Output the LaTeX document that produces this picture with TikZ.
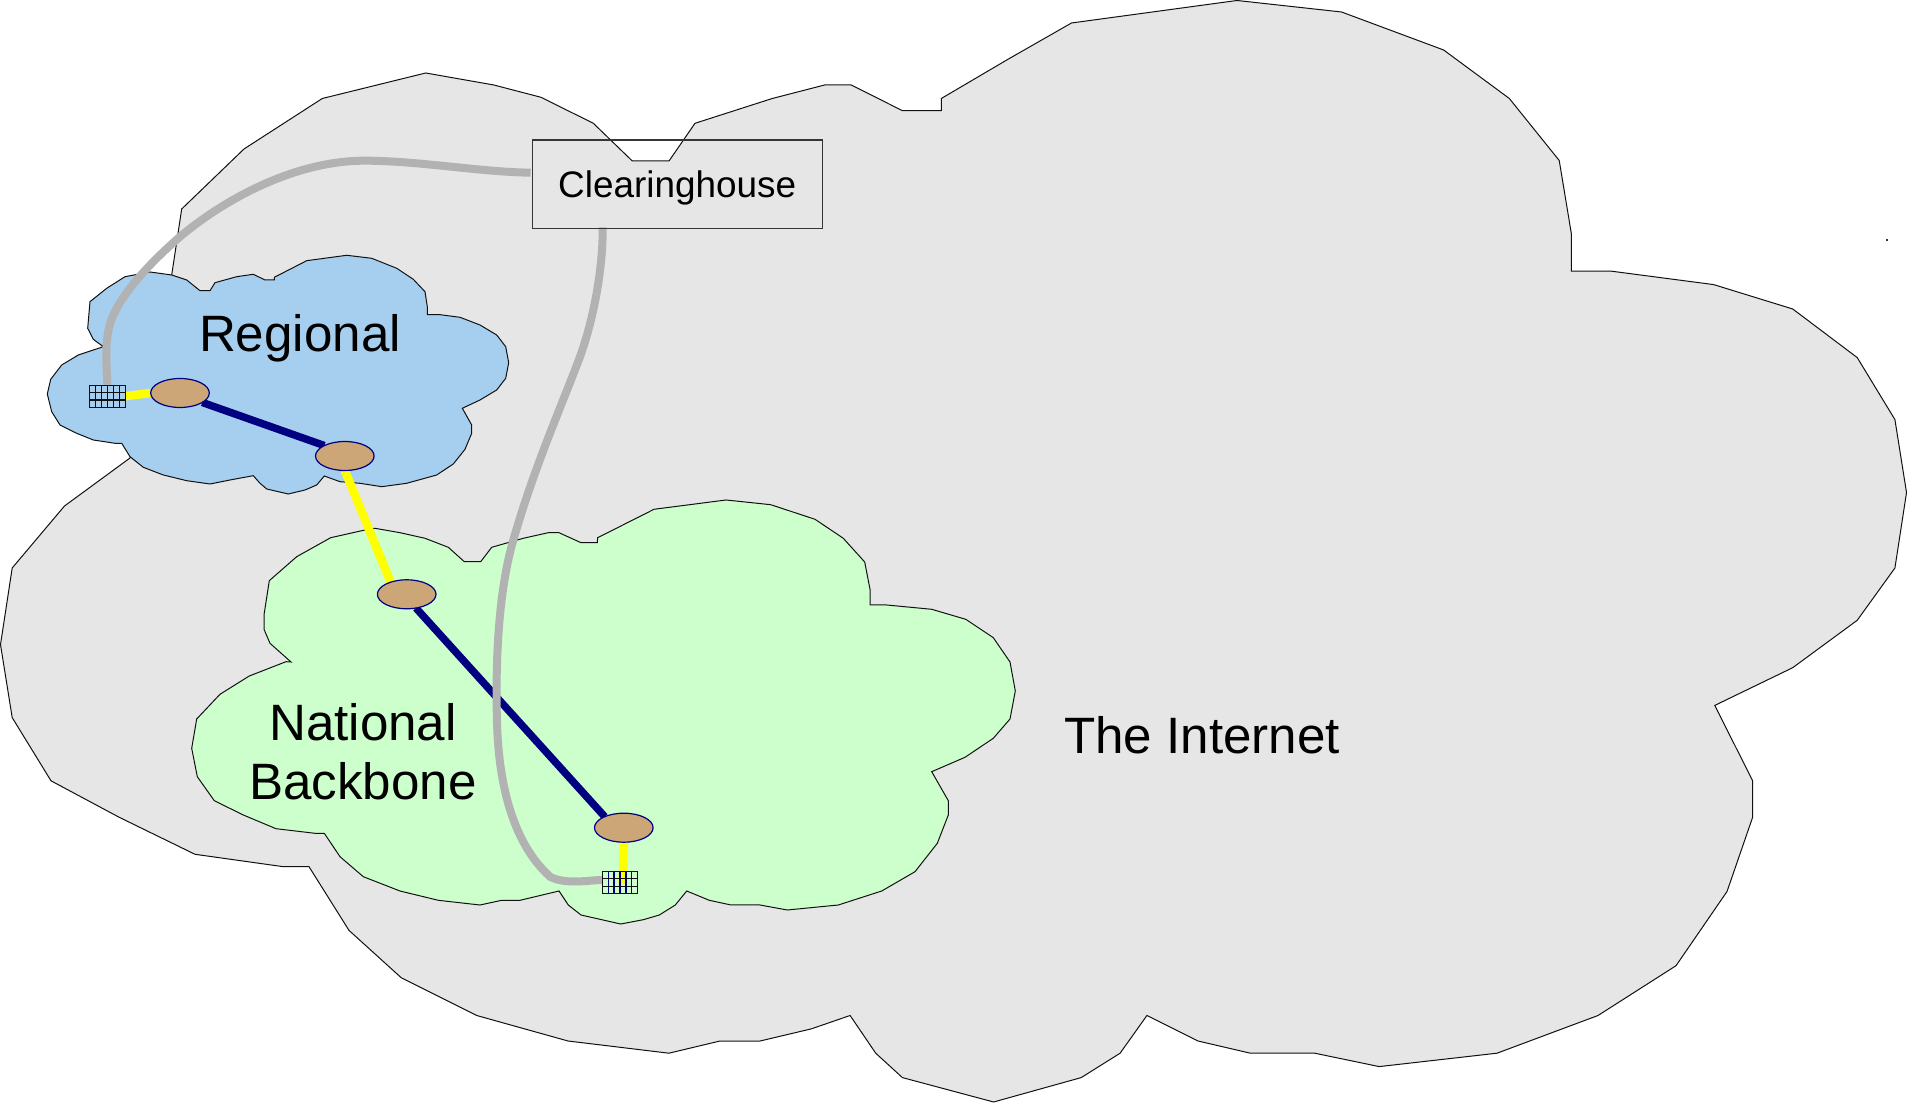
\documentclass[tikz,border=0pt]{standalone}
\usepackage{fontspec}
\setmainfont{Liberation Sans}
\usetikzlibrary{shapes.geometric,calc}
\pgfdeclarelayer{clouds}
\pgfdeclarelayer{links}
\pgfsetlayers{clouds,links,main}
\definecolor{inetgray}{HTML}{E6E6E6}
\definecolor{regblue}{HTML}{A6CFEF}
\definecolor{natgreen}{HTML}{CCFFCC}
\definecolor{routertan}{HTML}{CCA677}
\definecolor{linknavy}{HTML}{000080}
\definecolor{linkyellow}{HTML}{FFFF00}
\definecolor{linkgray}{HTML}{B2B2B2}
\definecolor{edgedark}{HTML}{111111}
\tikzset{
  cloudshape/.style={draw=edgedark,line width=0.1mm,line join=miter},
  router/.style={ellipse,draw=linknavy,fill=routertan,line width=0.12mm,minimum width=5.86mm,minimum height=2.9mm,inner sep=0pt,outer sep=0pt},
  meshbox/.style={rectangle,draw=edgedark,line width=0.12mm,minimum width=3.56mm,minimum height=2.18mm,inner sep=0pt,outer sep=0pt,
    path picture={
      \foreach \k in {1,...,5}{\draw[linknavy,line width=0.12mm] ($(path picture bounding box.north west)+(\k*0.593mm,0)$) -- ($(path picture bounding box.south west)+(\k*0.593mm,0)$);}
      \foreach \k in {1,2}{\draw[edgedark,line width=0.12mm] ($(path picture bounding box.north west)+(0,-\k*0.727mm)$) -- ($(path picture bounding box.north east)+(0,-\k*0.727mm)$);}
    }},
  chbox/.style={rectangle,draw=edgedark!85,line width=0.11mm,minimum width=28.97mm,minimum height=8.83mm,inner sep=0pt,outer sep=0pt,font=\fontsize{10.5pt}{12pt}\selectfont,text height=3.5mm,text depth=0.88mm},
  biglabel/.style={anchor=base,inner sep=0pt,font=\fontsize{14.55pt}{16.7pt}\selectfont,align=center},
  linkblue/.style={draw=linknavy,line width=0.75mm},
  linkyel/.style={draw=linkyellow,line width=0.85mm},
  linkgr/.style={draw=linkgray,line width=0.8mm},
}
\begin{document}
\begin{tikzpicture}[x=0.1mm,y=-0.1mm]
\useasboundingbox (0,0) rectangle (1907,1103);

\begin{pgfonlayer}{clouds}
\path[cloudshape,fill=inetgray] (171.7,275)--(181.7,209)--(244,149)--(322.3,98.5)--(425.7,73)--(493.8,85)--(541,97.3)--(593.3,123.3)--(632.3,161)--(669,161)--(695,123.3)--(772.3,98.5)--(824.6,85)--(851.3,85)--(902.4,110.7)--(941.3,110.7)--(941.3,98.5)--(1009.5,58.4)--(1071.5,23)--(1237,0.5)--(1341.5,12)--(1443.6,50)--(1509.3,98.5)--(1559.2,160.5)--(1571.3,233.5)--(1571.3,271.2)--(1611.5,271.2)--(1713.6,284.6)--(1792.7,309)--(1857.2,357.6)--(1894.9,419.6)--(1906.5,492.6)--(1894.9,568)--(1857.2,620.3)--(1792.7,667.7)--(1714.8,705.4)--(1752.6,780.8)--(1752.6,817.3)--(1727,891.5)--(1676,965.7)--(1598,1015.5)--(1497,1053.2)--(1379.2,1066.6)--(1314.7,1053.2)--(1250.3,1053.2)--(1198,1041)--(1146.9,1015.5)--(1120.1,1053.2)--(1081.2,1077.6)--(993.6,1102)--(902.4,1077.6)--(875.7,1053.2)--(850.1,1015.5)--(811.2,1028.9)--(760.1,1041)--(720,1041)--(668.9,1053.2)--(568,1041)--(476.7,1015.5)--(401.3,977.8)--(349,930.4)--(309,866.7)--(283.3,866.7)--(195,854.3)--(119.2,817.3)--(51,780.8)--(12.2,717.6)--(0.5,644.6)--(12.2,568)--(64.5,506)--(130,458)--cycle;
\path[cloudshape,fill=regblue] (150,272)--(171.7,275)--(186.7,280)--(200,290.7)--(210,290.7)--(215,282.7)--(236.7,276.7)--(253.3,274.3)--(265,280)--(274.3,280)--(274.3,277.3)--(306.7,260.7)--(346.7,255.3)--(371.7,258.3)--(396.7,268.3)--(413.3,279.3)--(425,291.7)--(427.3,306.7)--(427.3,314.7)--(440,314.7)--(460,317.3)--(480,325)--(496.7,335)--(505.7,346.7)--(508.7,362.7)--(505.7,378.3)--(496.7,390)--(480,400)--(462.3,408.3)--(471.7,425)--(471.7,433.3)--(465,449.3)--(453.3,464)--(436.7,475)--(406.7,483.3)--(381.7,486.7)--(360,483.3)--(340,481.7)--(324.3,476)--(316.7,485)--(305,490)--(288.3,494)--(266.7,489)--(260,483.3)--(253.3,475.7)--(230,480)--(210,484)--(186.7,480.7)--(163.3,475)--(143.3,467.3)--(130,456.7)--(121.7,443.3)--(115,443.3)--(93.3,440)--(76.7,433.3)--(60,425)--(51.7,411.7)--(47.3,394)--(50.7,379.3)--(61.7,365)--(78.3,355)--(103.3,346.7)--(93.3,339.3)--(87.7,328.3)--(90,301.7)--(106.7,288.3)--(125,276.7)--cycle;
\path[cloudshape,fill=natgreen] (375,528.3)--(400,532.7)--(425,538.3)--(448.3,547.3)--(464.3,561.7)--(480.7,561.7)--(491.7,547.3)--(523.3,538.3)--(548.3,532.7)--(559,532.7)--(581,542.7)--(597.3,542.7)--(597.7,537.7)--(654,509.3)--(726,500)--(770.7,504.7)--(815,519.3)--(843.3,538.3)--(864.7,562)--(870,589.3)--(870,605)--(886.7,605)--(931.7,609.3)--(965.7,619.3)--(993.3,637.7)--(1010,662)--(1015.3,691)--(1010,719)--(993.3,738.3)--(965,757.3)--(931.7,771.7)--(948.3,800.7)--(948.3,815)--(937.3,843.3)--(915,871.7)--(881.7,891)--(838.3,905)--(787.3,910)--(760,905)--(731,905)--(709.3,900.3)--(686.7,891)--(675.3,905)--(659.3,915)--(643.3,919.7)--(620.7,924)--(581,915)--(568.3,905)--(559,891)--(520,900.3)--(501.7,900.3)--(480,905)--(438.3,900.3)--(400,891)--(363.3,876.7)--(340,856.7)--(324.3,833.3)--(315,833.3)--(276,828.7)--(243.3,815)--(214.3,800.7)--(197.3,776.7)--(191.7,748.3)--(196.7,719)--(220,694.3)--(249.3,676)--(286,661.7)--(291,662)--(270,643.3)--(264,629.3)--(264,615)--(269.3,580.7)--(296.7,556.7)--(330.7,537.7)--(365,530)--cycle;
\end{pgfonlayer}

% routers
\node[router] (e1) at (180,393) {};
\node[router] (e2) at (344.8,456) {};
\node[router] (e3) at (406.7,594.3) {};
\node[router] (e4) at (623.8,827.7) {};
% meshes
\node[meshbox] (g1) at (107.3,396.3) {};
\node[meshbox] (g2) at (620,882.5) {};
% clearinghouse
\node[chbox] (ch) at (677.2,184.2) {Clearinghouse};
\coordinate (chleft) at (530.7,172.7);
\coordinate (chbottom) at (602.7,227.3);
\coordinate (g2left) at (602,880);
\coordinate (g2mid) at (622.7,884);
% labels
\node[biglabel] (lreg) at (300,351.7) {Regional};
\node[biglabel] (lnat) at (363,740.7) {National};
\node[biglabel] (lbb) at (363,799.3) {Backbone};
\node[biglabel] (lnet) at (1202,753.3) {The Internet};
% speck
\path[fill=black!80] (1886,239) rectangle (1888,241);

\begin{pgfonlayer}{links}
\draw[linkblue] (e1.-23.5) -- (e2.153);
\draw[linkblue] (e3.-56) -- (e4.150);
\draw[linkyel] (g1.east) -- (e1.west);
\draw[linkyel] (e2.south) -- (e3.143);
\draw[linkyel] (e4.south) -- (g2mid);
\draw[linkgr] (chleft) .. controls (480,172) and (420,161) .. (366.7,160.7)
  .. controls (300,160) and (230,195) .. (180,236.7)
  .. controls (150,263) and (125,290) .. (113.3,315)
  .. controls (103,338) and (107,365) .. (g1.north);
\draw[linkgr] (chbottom) .. controls (603,265) and (595,315) .. (580,356.7)
  .. controls (560,410) and (535,465) .. (513.3,540)
  .. controls (500,586) and (495,650) .. (497,723)
  .. controls (499,790) and (515,845) .. (550,876.7)
  .. controls (565,885) and (590,880) .. (g2left);
\end{pgfonlayer}
\end{tikzpicture}
\end{document}
